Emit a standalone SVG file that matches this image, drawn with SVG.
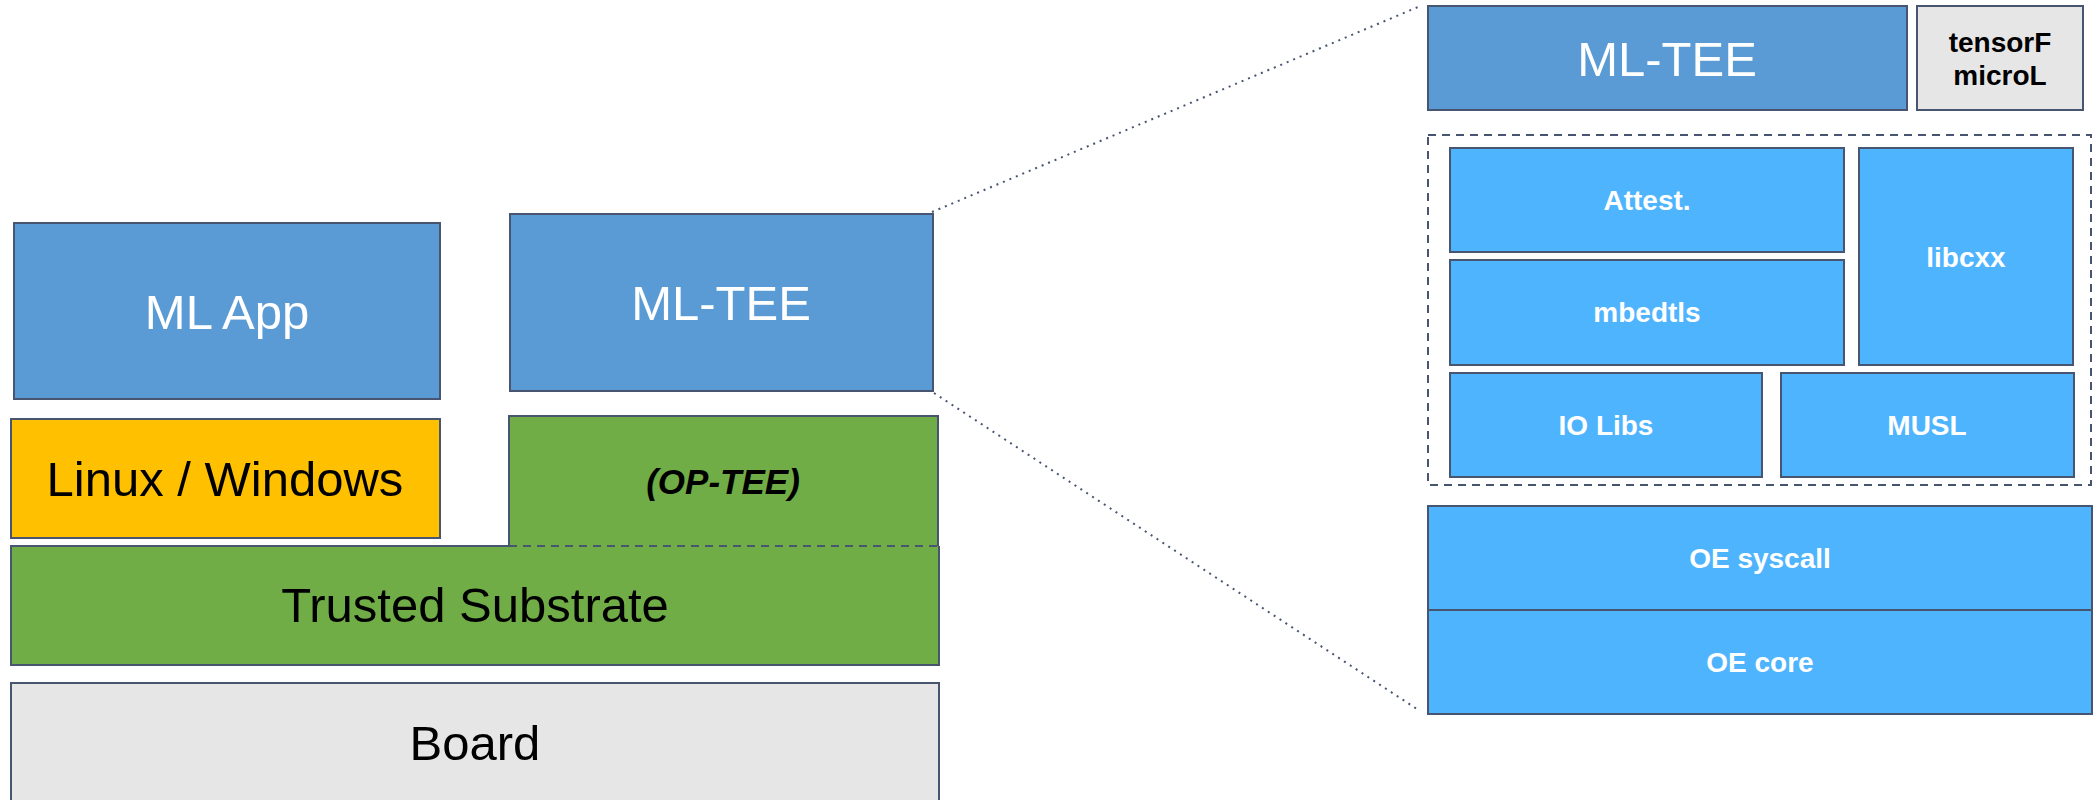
<svg xmlns="http://www.w3.org/2000/svg" width="2095" height="800" viewBox="0 0 2095 800">
  <style>
    .box { stroke: #475570; stroke-width: 2; }
    .app { fill: #5B9BD5; }
    .os { fill: #FFC000; }
    .green { fill: #70AD47; }
    .board { fill: #E6E6E6; }
    .lib { fill: #4FB4FE; }
    .big { font-family: "Liberation Sans", Arial, sans-serif; font-size: 49px; text-anchor: middle; }
    .white { fill: #FFFFFF; }
    .black { fill: #000000; }
    .small { font-family: "Liberation Sans", Arial, sans-serif; font-size: 28px; font-weight: bold; text-anchor: middle; }
    .edge { fill: none; stroke: #475570; stroke-width: 2; }
    .dotted { stroke-dasharray: 2 5; }
    .dashed { stroke-dasharray: 8 6; }
  </style>

  <!-- left stack -->
  <g id="ml-app">
    <rect class="box app" x="14" y="223" width="426" height="176"/>
    <text class="big white" x="227" y="329">ML App</text>
  </g>
  <g id="ml-tee">
    <rect class="box app" x="510" y="214" width="423" height="177"/>
    <text class="big white" x="721" y="320">ML-TEE</text>
  </g>
  <g id="linux-windows">
    <rect class="box os" x="11" y="419" width="429" height="119"/>
    <text class="big black" x="225" y="496">Linux / Windows</text>
  </g>
  <g id="trusted-substrate">
    <rect class="green" x="11" y="546" width="928" height="119"/>
    <path class="edge" d="M509 546 H11 V665 H939 V546"/>
    <text class="big black" x="475" y="622">Trusted Substrate</text>
  </g>
  <g id="op-tee">
    <rect class="green" x="509" y="416" width="429" height="130"/>
    <path class="edge" d="M509 546 V416 H938 V546"/>
    <path class="edge dashed" d="M509 546 H939"/>
    <text class="black" x="723" y="494" font-family="Liberation Sans, Arial, sans-serif" font-size="35" font-weight="bold" font-style="italic" text-anchor="middle">(OP-TEE)</text>
  </g>
  <g id="board">
    <rect class="box board" x="11" y="683" width="928" height="155"/>
    <text class="big black" x="475" y="760">Board</text>
  </g>

  <!-- zoomed-in ML-TEE -->
  <g id="ml-tee-detail">
    <rect class="box app" x="1428" y="6" width="479" height="104"/>
    <text class="big white" x="1667" y="76">ML-TEE</text>
  </g>
  <g id="tflite-micro">
    <rect class="box board" x="1917" y="6" width="166" height="104"/>
    <text class="small black" x="2000" y="52" font-size="26">tensorF</text>
    <text class="small black" x="2000" y="85" font-size="26">microL</text>
  </g>
  <g id="libs">
    <rect class="edge dashed" x="1428" y="135" width="663" height="350"/>
  </g>
  <g id="attest">
    <rect class="box lib" x="1450" y="148" width="394" height="104"/>
    <text class="small white" x="1647" y="210">Attest.</text>
  </g>
  <g id="mbedtls">
    <rect class="box lib" x="1450" y="260" width="394" height="105"/>
    <text class="small white" x="1647" y="322">mbedtls</text>
  </g>
  <g id="libcxx">
    <rect class="box lib" x="1859" y="148" width="214" height="217"/>
    <text class="small white" x="1966" y="267">libcxx</text>
  </g>
  <g id="io-libs">
    <rect class="box lib" x="1450" y="373" width="312" height="104"/>
    <text class="small white" x="1606" y="435">IO Libs</text>
  </g>
  <g id="musl">
    <rect class="box lib" x="1781" y="373" width="293" height="104"/>
    <text class="small white" x="1927" y="435">MUSL</text>
  </g>
  <g id="oe-syscall">
    <rect class="box lib" x="1428" y="506" width="664" height="104"/>
    <text class="small white" x="1760" y="568">OE syscall</text>
  </g>
  <g id="oe-core">
    <rect class="box lib" x="1428" y="610" width="664" height="104"/>
    <text class="small white" x="1760" y="672">OE core</text>
  </g>

  <!-- zoom guide lines -->
  <g id="connectors">
    <path class="edge dotted" d="M932 212 L1418 7"/>
    <path class="edge dotted" d="M934 393 L1420 711"/>
  </g>
</svg>
